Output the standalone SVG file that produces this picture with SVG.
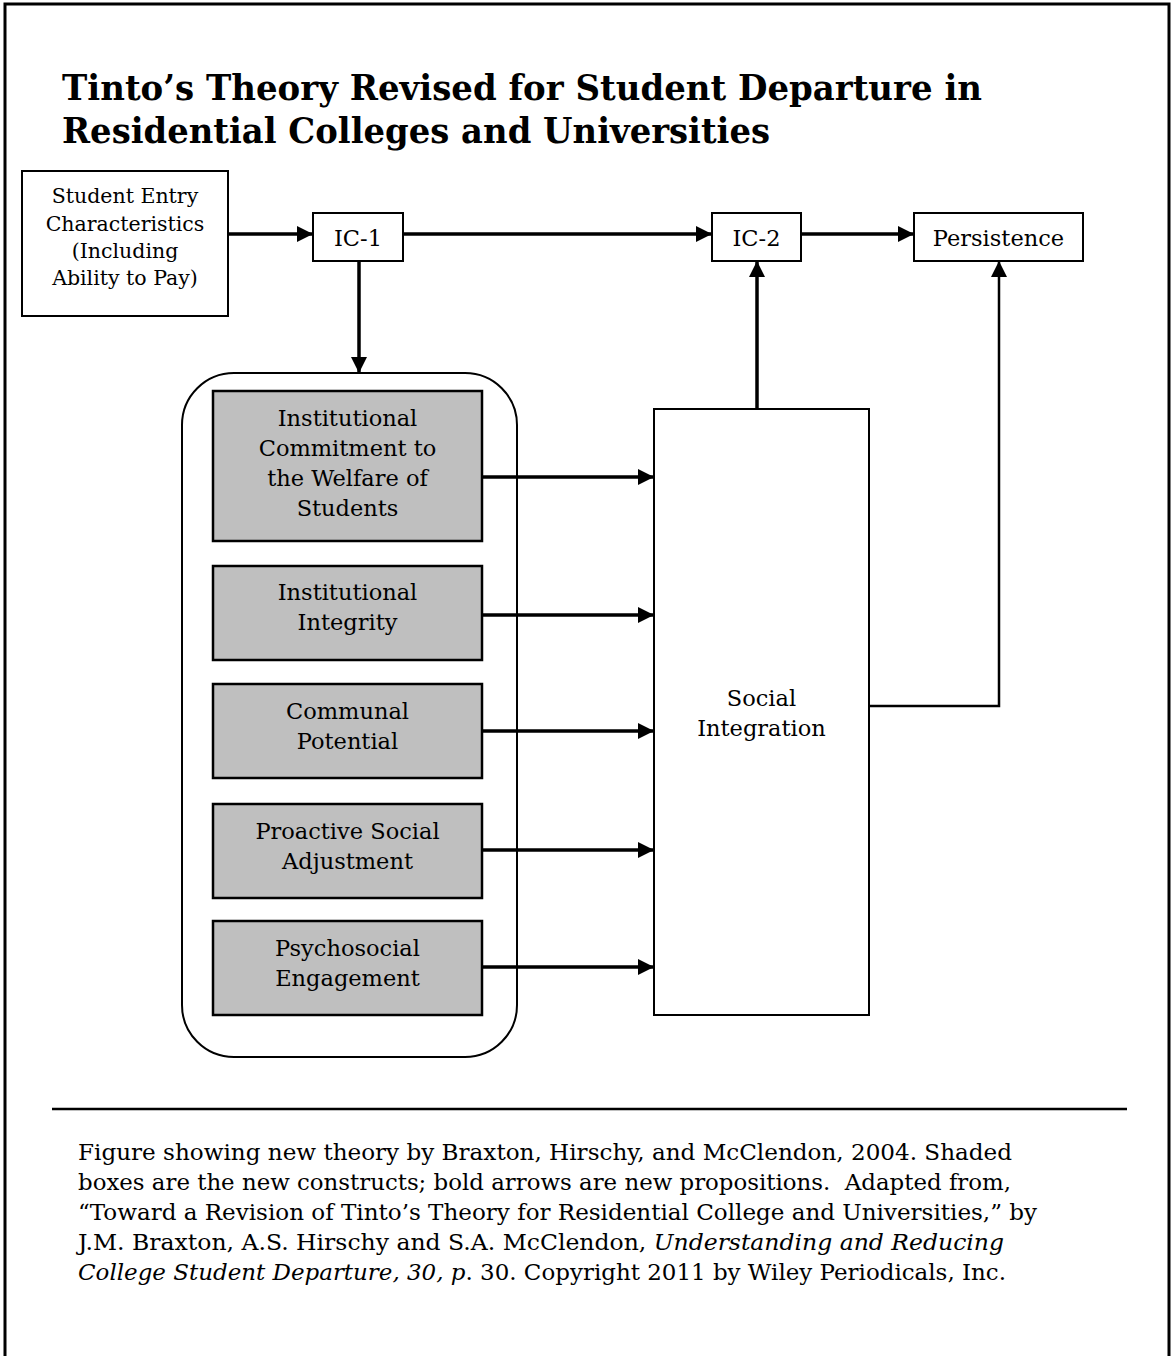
<svg xmlns="http://www.w3.org/2000/svg" width="1171" height="1356" viewBox="0 0 1171 1356">
<style>
.t{font-family:"DejaVu Serif","Liberation Serif",serif;fill:#000}
.title{font-size:36px;font-weight:bold}
.lbl{font-size:22.5px;text-anchor:middle}
.sm{font-size:20.5px;text-anchor:middle}
.cap{font-size:22px}
.box{fill:#fff;stroke:#000;stroke-width:2}
.shade{fill:#bfbfbf;stroke:#000;stroke-width:2.5}
.bold{fill:none;stroke:#000;stroke-width:3.5}
.thin{fill:none;stroke:#000;stroke-width:2.5}
</style>
<defs>
<marker id="ah" markerUnits="userSpaceOnUse" markerWidth="16" markerHeight="16" viewBox="0 0 16 16" refX="16" refY="8" orient="auto">
<path d="M0,0 L16,8 L0,16 Z" fill="#000"/>
</marker>
</defs>
<rect width="1171" height="1356" fill="#fff"/>
<path d="M5,1356 V4 H1169 V1356" fill="none" stroke="#000" stroke-width="3"/>
<g id="title">
<text class="t title" x="62" y="100" textLength="920" lengthAdjust="spacingAndGlyphs">Tinto’s Theory Revised for Student Departure in</text>
<text class="t title" x="62" y="143" textLength="708" lengthAdjust="spacingAndGlyphs">Residential Colleges and Universities</text>
</g>
<g id="connectors">
<line class="bold" x1="228" y1="234" x2="313" y2="234" marker-end="url(#ah)"/>
<line class="bold" x1="403" y1="234" x2="712" y2="234" marker-end="url(#ah)"/>
<line class="bold" x1="801" y1="234" x2="914" y2="234" marker-end="url(#ah)"/>
<line class="bold" x1="359" y1="261" x2="359" y2="373" marker-end="url(#ah)"/>
<line class="bold" x1="757" y1="409" x2="757" y2="261" marker-end="url(#ah)"/>
<polyline class="thin" points="869,706 999,706 999,261" marker-end="url(#ah)"/>
<line class="bold" x1="482" y1="477" x2="654" y2="477" marker-end="url(#ah)"/>
<line class="bold" x1="482" y1="615" x2="654" y2="615" marker-end="url(#ah)"/>
<line class="bold" x1="482" y1="731" x2="654" y2="731" marker-end="url(#ah)"/>
<line class="bold" x1="482" y1="850" x2="654" y2="850" marker-end="url(#ah)"/>
<line class="bold" x1="482" y1="967" x2="654" y2="967" marker-end="url(#ah)"/>
</g>
<g id="student-entry">
<rect class="box" x="22" y="171" width="206" height="145"/>
<text class="t sm" x="125" y="203">Student Entry</text>
<text class="t sm" x="125" y="231">Characteristics</text>
<text class="t sm" x="125" y="258">(Including</text>
<text class="t sm" x="125" y="285">Ability to Pay)</text>
</g>
<g id="ic1">
<rect class="box" x="313" y="213" width="90" height="48"/>
<text class="t lbl" x="358" y="246">IC-1</text>
</g>
<g id="ic2">
<rect class="box" x="712" y="213" width="89" height="48"/>
<text class="t lbl" x="756.5" y="246">IC-2</text>
</g>
<g id="persistence">
<rect class="box" x="914" y="213" width="169" height="48"/>
<text class="t lbl" x="998.5" y="246">Persistence</text>
</g>
<g id="container">
<rect x="182" y="373" width="335" height="684" rx="52" ry="52" fill="none" stroke="#000" stroke-width="2"/>
</g>
<g id="commitment">
<rect class="shade" x="213" y="391" width="269" height="150"/>
<text class="t lbl" x="347.5" y="426">Institutional</text>
<text class="t lbl" x="347.5" y="456">Commitment to</text>
<text class="t lbl" x="347.5" y="486">the Welfare of</text>
<text class="t lbl" x="347.5" y="516">Students</text>
</g>
<g id="integrity">
<rect class="shade" x="213" y="566" width="269" height="94"/>
<text class="t lbl" x="347.5" y="600">Institutional</text>
<text class="t lbl" x="347.5" y="630">Integrity</text>
</g>
<g id="communal">
<rect class="shade" x="213" y="684" width="269" height="94"/>
<text class="t lbl" x="347.5" y="719">Communal</text>
<text class="t lbl" x="347.5" y="749">Potential</text>
</g>
<g id="proactive">
<rect class="shade" x="213" y="804" width="269" height="94"/>
<text class="t lbl" x="347.5" y="839">Proactive Social</text>
<text class="t lbl" x="347.5" y="869">Adjustment</text>
</g>
<g id="psychosocial">
<rect class="shade" x="213" y="921" width="269" height="94"/>
<text class="t lbl" x="347.5" y="956">Psychosocial</text>
<text class="t lbl" x="347.5" y="986">Engagement</text>
</g>
<g id="social-integration">
<rect class="box" x="654" y="409" width="215" height="606"/>
<text class="t lbl" x="761.5" y="706">Social</text>
<text class="t lbl" x="761.5" y="736">Integration</text>
</g>
<g id="caption">
<line x1="52" y1="1109" x2="1127" y2="1109" stroke="#000" stroke-width="2.5"/>
<text class="t cap" x="78" y="1160" textLength="934" lengthAdjust="spacingAndGlyphs">Figure showing new theory by Braxton, Hirschy, and McClendon, 2004. Shaded</text>
<text class="t cap" x="78" y="1190" textLength="933" lengthAdjust="spacingAndGlyphs" xml:space="preserve">boxes are the new constructs; bold arrows are new propositions.  Adapted from,</text>
<text class="t cap" x="78" y="1220" textLength="959" lengthAdjust="spacingAndGlyphs">“Toward a Revision of Tinto’s Theory for Residential College and Universities,” by</text>
<text class="t cap" x="78" y="1250" textLength="926" lengthAdjust="spacingAndGlyphs">J.M. Braxton, A.S. Hirschy and S.A. McClendon, <tspan font-style="italic">Understanding and Reducing</tspan></text>
<text class="t cap" x="78" y="1280" textLength="928" lengthAdjust="spacingAndGlyphs"><tspan font-style="italic">College Student Departure, 30, p</tspan>. 30. Copyright 2011 by Wiley Periodicals, Inc.</text>
</g>
</svg>
